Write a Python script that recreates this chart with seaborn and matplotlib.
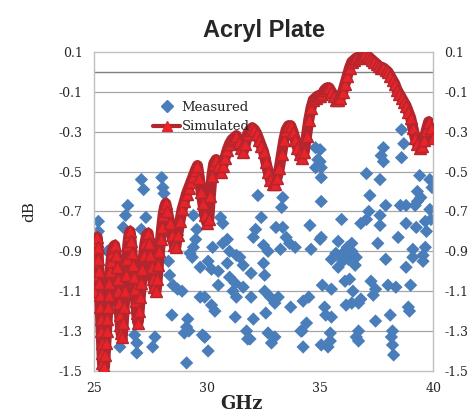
#!/usr/bin/env python3
"""
Acryl Plate transmission: measured vs simulated (dB over 25-40 GHz).
Writes out.png
"""

import pandas as pd
import seaborn as sns
import matplotlib.pyplot as plt
from matplotlib.lines import Line2D


# measured points (GHz, dB)
meas_ghz = [
    25.2, 25.2, 26.5, 26.4, 26.3, 27.1, 27.2, 28.0, 28.05, 28.1, 27.3, 27.1, 28.7, 29.4,
    29.55, 29.5, 29.25, 29.4, 29.35, 29.7, 28.35, 28.5, 28.9, 28.7, 29.7, 28.45, 29.15,
    29.1, 29.8, 26.9, 26.15, 26.9, 27.6, 27.7, 26.8, 29.1, 29.0, 29.2, 29.9, 30.05,
    25.6, 26.0, 27.0, 26.6, 27.5, 28.3,
    30.05, 30.2, 30.5, 30.9, 31.45, 31.6, 31.95, 32.5, 32.55, 30.5, 31.0, 31.25, 31.6,
    31.15, 31.3, 31.95, 29.9, 30.2, 30.35, 31.25, 32.05, 32.55, 32.8, 33.0, 32.6, 33.15,
    33.7, 34.25, 34.5, 34.4, 29.9, 31.75, 31.9, 32.7, 33.0, 32.85, 34.15, 34.25, 35.05,
    31.8,
    32.25, 33.35, 33.3, 30.6, 30.7, 30.9, 30.7, 30.25, 32.4, 32.15, 32.05, 33.05, 33.35,
    33.5, 33.65, 33.9, 33.25, 34.55, 34.6, 34.8, 34.9, 34.8, 35.0, 31.3, 32.5, 32.7, 31.0,
    38.6, 38.7, 38.6, 37.8, 37.7, 37.8, 35.0, 35.0, 35.05, 35.05, 37.05, 37.65, 37.2,
    35.05, 39.4, 39.85, 39.95, 39.3, 39.45, 37.9, 38.55, 38.8, 39.2, 39.3, 37.15, 37.05,
    37.65, 37.65, 36.8, 35.95, 39.85, 39.9, 38.8, 39.25, 39.65, 39.7, 35.05, 35.8, 36.4,
    37.55, 38.45, 39.1, 39.65, 39.55, 36.0, 35.7,
    35.5, 35.8, 36.25, 36.55, 35.95, 36.1, 36.3, 37.9, 38.8, 39.55, 39.1, 35.1, 35.5,
    36.1, 36.3, 36.45, 37.25, 37.45, 37.35, 38.0, 38.35, 39.0, 35.2, 35.25, 35.5, 36.15,
    36.4, 36.7, 36.8, 37.45, 38.1, 38.9, 38.95, 35.45, 35.45, 35.35, 36.7, 36.7, 38.15,
    38.2, 38.25, 38.2, 34.2, 36.6, 36.2, 36.4, 36.0, 36.6,
]
meas_db = [
    -0.75, -0.80, -0.67, -0.72, -0.78, -0.54, -0.59, -0.53, -0.58, -0.61, -0.73, -0.79, -0.82, -0.72,
    -0.79, -0.84, -0.91, -0.88, -0.93, -0.98, -1.02, -1.07, -1.10, -1.09, -1.13, -1.22, -1.24,
    -1.28, -1.32, -1.36, -1.38, -1.41, -1.38, -1.33, -1.32, -1.46, -1.31, -1.30, -1.33, -1.40,
    -0.90, -1.00, -1.05, -0.95, -0.85, -0.95,
    -0.95, -0.99, -1.00, -0.96, -0.93, -0.97, -1.01, -0.96, -1.02, -1.07, -1.03, -1.06, -1.08,
    -1.10, -1.13, -1.13, -1.13, -1.17, -1.20, -1.23, -1.24, -1.10, -1.13, -1.16, -1.21, -1.13,
    -1.18, -1.15, -1.13, -1.26, -1.33, -1.30, -1.34, -1.31, -1.33, -1.36, -1.30, -1.38, -1.37,
    -1.34,
    -0.62, -0.63, -0.68, -0.73, -0.76, -0.84, -0.86, -0.88, -0.73, -0.79, -0.83, -0.78, -0.78,
    -0.83, -0.86, -0.88, -0.89, -0.77, -0.89, -0.38, -0.44, -0.48, -0.84, -0.92, -0.87, -0.90, -0.90,
    -0.29, -0.36, -0.43, -0.38, -0.42, -0.45, -0.39, -0.45, -0.48, -0.53, -0.51, -0.54, -0.62,
    -0.65, -0.52, -0.54, -0.58, -0.60, -0.63, -0.67, -0.67, -0.67, -0.67, -0.65, -0.70, -0.74,
    -0.72, -0.77, -0.76, -0.74, -0.69, -0.74, -0.76, -0.78, -0.75, -0.80, -0.83, -0.85, -0.86,
    -0.86, -0.83, -0.89, -0.88, -0.92, -0.91, -0.91,
    -0.94, -0.98, -0.94, -0.97, -0.93, -0.90, -0.92, -0.94, -0.98, -0.95, -0.93, -1.07, -1.09,
    -1.05, -1.04, -1.10, -1.05, -1.09, -1.12, -1.07, -1.08, -1.07, -1.18, -1.22, -1.23, -1.17,
    -1.16, -1.16, -1.14, -1.25, -1.22, -1.18, -1.20, -1.31, -1.35, -1.38, -1.30, -1.35, -1.33,
    -1.37, -1.42, -1.30, -1.30, -1.33, -0.88, -0.90, -0.95, -0.93,
]

# simulated curve (GHz, dB) traced along the band
sim_ghz = [
    25.00, 25.03, 25.06, 25.09, 25.12, 25.15,
    25.18, 25.20, 25.22, 25.24, 25.26, 25.28, 25.30, 25.32, 25.34, 25.36, 25.38, 25.42,
    25.47, 25.50, 25.53, 25.56, 25.59, 25.62, 25.65, 25.68, 25.72, 25.76, 25.80, 25.85, 25.92,
    25.98, 26.02, 26.05, 26.08, 26.11, 26.14, 26.17, 26.20, 26.25,
    26.30, 26.34, 26.38, 26.42, 26.46, 26.50, 26.55, 26.60,
    26.65, 26.69, 26.73, 26.77, 26.81, 26.85, 26.89, 26.95,
    27.00, 27.05, 27.10, 27.15, 27.20, 27.26, 27.33, 27.40,
    27.45, 27.50, 27.55, 27.60, 27.67, 27.75,
    27.80, 27.85, 27.90, 27.95, 28.00, 28.06, 28.12, 28.18,
    28.25, 28.35, 28.45, 28.55, 28.62,
    28.70, 28.80, 28.90, 29.00, 29.10, 29.20, 29.30, 29.40, 29.50, 29.58,
    29.66, 29.74, 29.82, 29.90, 30.00, 30.08,
    30.15, 30.22, 30.30, 30.40, 30.50, 30.60, 30.70, 30.80, 30.90, 31.00, 31.10, 31.20,
    31.30, 31.40, 31.50, 31.60, 31.70, 31.80, 31.90, 32.00, 32.10, 32.20, 32.30, 32.40,
    32.50, 32.60, 32.70, 32.80, 32.90, 33.00, 33.10, 33.20, 33.30, 33.40, 33.50, 33.60,
    33.70, 33.80, 33.90, 34.00, 34.10, 34.20, 34.30, 34.40, 34.50, 34.60, 34.70, 34.80,
    34.90, 35.00, 35.10, 35.20, 35.30, 35.40, 35.50, 35.60, 35.70, 35.80, 35.90, 36.00,
    36.10, 36.20, 36.30, 36.40, 36.50, 36.60, 36.70, 36.80, 36.90, 37.00, 37.10, 37.20,
    37.30, 37.40, 37.50, 37.60, 37.70, 37.80, 37.90, 38.00, 38.10, 38.20, 38.30, 38.40,
    38.50, 38.60, 38.70, 38.80, 38.90, 39.00, 39.10, 39.20, 39.30, 39.40, 39.50, 39.60,
    39.70, 39.80, 39.90, 40.00,
]
sim_db = [
    -1.10, -1.02, -0.95, -0.89, -0.85, -0.83,
    -0.88, -0.94, -1.00, -1.06, -1.12, -1.18, -1.24, -1.30, -1.36, -1.41, -1.46, -1.49,
    -1.48, -1.42, -1.36, -1.30, -1.24, -1.18, -1.12, -1.06, -1.00, -0.95, -0.91, -0.88, -0.87,
    -0.92, -0.98, -1.04, -1.10, -1.16, -1.22, -1.27, -1.31, -1.33,
    -1.26, -1.18, -1.10, -1.02, -0.94, -0.87, -0.82, -0.80,
    -0.85, -0.91, -0.97, -1.03, -1.09, -1.15, -1.21, -1.26,
    -1.20, -1.13, -1.06, -0.99, -0.92, -0.86, -0.82, -0.81,
    -0.86, -0.92, -0.98, -1.04, -1.08, -1.10,
    -1.04, -0.97, -0.90, -0.84, -0.78, -0.72, -0.68, -0.66,
    -0.70, -0.76, -0.82, -0.87, -0.88,
    -0.82, -0.75, -0.69, -0.65, -0.61, -0.58, -0.55, -0.52, -0.49, -0.47,
    -0.53, -0.60, -0.66, -0.72, -0.76, -0.74,
    -0.62, -0.52, -0.46, -0.44, -0.47, -0.50, -0.47, -0.43, -0.39, -0.36, -0.34, -0.33,
    -0.32, -0.35, -0.38, -0.40, -0.36, -0.31, -0.29, -0.28, -0.29, -0.31, -0.34, -0.37,
    -0.40, -0.45, -0.50, -0.54, -0.56, -0.56, -0.53, -0.48, -0.41, -0.34, -0.29, -0.27,
    -0.27, -0.30, -0.34, -0.38, -0.41, -0.43, -0.40, -0.32, -0.24, -0.18, -0.14, -0.13,
    -0.12, -0.12, -0.11, -0.09, -0.08, -0.08, -0.10, -0.12, -0.14, -0.14, -0.13, -0.10,
    -0.06, -0.02, 0.02, 0.05, 0.06, 0.07, 0.07, 0.08, 0.09, 0.09, 0.08, 0.07,
    0.06, 0.05, 0.04, 0.03, 0.02, 0.02, 0.01, 0.00, -0.02, -0.04, -0.06, -0.09,
    -0.11, -0.13, -0.15, -0.17, -0.20, -0.23, -0.28, -0.33, -0.36, -0.38, -0.37, -0.34,
    -0.29, -0.25, -0.28, -0.33,
]

y_ticks = [0.1, -0.1, -0.3, -0.5, -0.7, -0.9, -1.1, -1.3, -1.5]
y_tick_labels = ["0.1", "-0.1", "-0.3", "-0.5", "-0.7", "-0.9", "-1.1", "-1.3", "-1.5"]
x_ticks = [25, 30, 35, 40]

BLUE = "#4a7ebb"
DARK_RED = "#b3262d"
RED = "#e8232a"


def main():
    sns.set_theme(style="white")
    plt.rcParams["axes.unicode_minus"] = False
    serif = ["DejaVu Serif"]

    measured = pd.DataFrame({"ghz": meas_ghz, "db": meas_db})
    simulated = pd.DataFrame({"ghz": sim_ghz, "db": sim_db})

    fig = plt.figure(figsize=(4.74, 4.13), dpi=100)
    ax = fig.add_axes([0.198, 0.102, 0.716, 0.772])

    for y in y_ticks[1:-1]:
        ax.axhline(y, color="#a6a6a6", lw=0.9, zorder=0)
    ax.axhline(0.0, color="#7f7f7f", lw=1.0, zorder=0)

    sns.scatterplot(
        data=measured, x="ghz", y="db", marker="D", s=46,
        color=BLUE, edgecolor="none", ax=ax, zorder=2, legend=False,
    )
    sns.lineplot(
        data=simulated, x="ghz", y="db", sort=False, estimator=None,
        color=DARK_RED, lw=8, marker="^", markersize=8,
        markerfacecolor=RED, markeredgecolor=DARK_RED, markeredgewidth=1.0,
        ax=ax, zorder=3, legend=False,
    )

    ax.set_xlim(25, 40)
    ax.set_ylim(-1.5, 0.1)
    ax.set_xticks(x_ticks)
    ax.set_xticklabels([str(t) for t in x_ticks], family=serif, fontsize=9)
    ax.set_yticks(y_ticks)
    ax.set_yticklabels(y_tick_labels, family=serif, fontsize=9)
    ax.tick_params(axis="y", labelright=True, length=0, pad=8)
    ax.tick_params(axis="x", length=0, pad=8)
    for side in ax.spines.values():
        side.set_color("#bfbfbf")
        side.set_linewidth(1.0)

    ax.set_xlabel("GHz", family=serif, fontsize=13, fontweight="bold")
    ax.xaxis.set_label_coords(0.434, -0.075)
    ax.set_ylabel("dB", family=serif, fontsize=11, labelpad=16)
    ax.set_title("Acryl Plate", family=["Liberation Sans"], fontsize=17,
                 fontweight="bold", pad=11)

    handles = [
        Line2D([], [], marker="D", color=BLUE, linestyle="none", markersize=6),
        Line2D([], [], color=DARK_RED, lw=3, marker="^", markersize=7,
               markerfacecolor=RED, markeredgecolor=RED),
    ]
    ax.legend(
        handles, ["Measured", "Simulated"], loc="upper left",
        bbox_to_anchor=(0.155, 0.868), borderpad=0, frameon=False,
        prop={"family": "DejaVu Serif", "size": 9.5},
        handlelength=2.05, handletextpad=0.1, labelspacing=0.5,
    )

    fig.savefig("out.png", dpi=100)
    plt.close(fig)


if __name__ == "__main__":
    main()
